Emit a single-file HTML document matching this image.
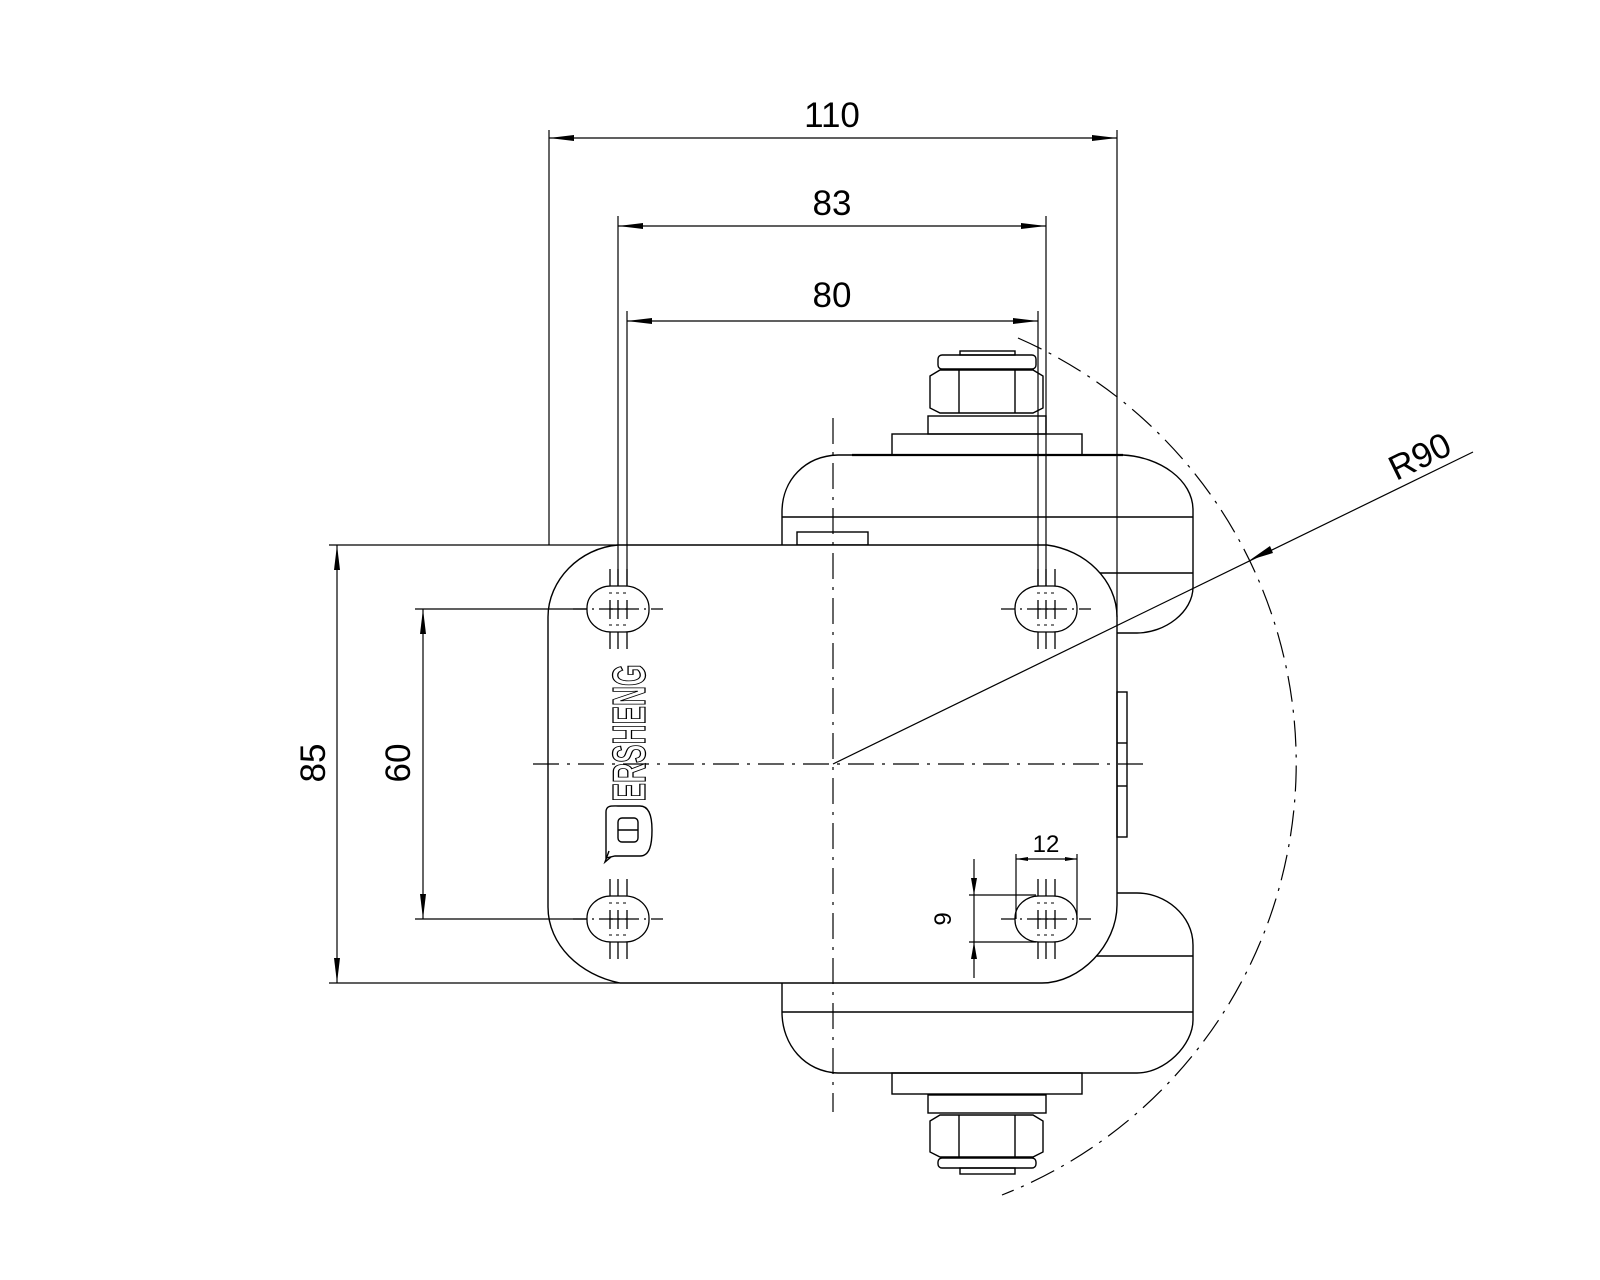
<!DOCTYPE html>
<html><head><meta charset="utf-8"><style>
html,body{margin:0;padding:0;background:#fff;}
svg{display:block;}
text{font-family:"Liberation Sans",sans-serif;fill:#000;}
</style></head><body>
<svg width="1600" height="1280" viewBox="0 0 1600 1280" xmlns="http://www.w3.org/2000/svg">
<defs>
<g id="hole">
  <rect x="-31" y="-23" width="62" height="46" rx="24" ry="22" fill="none" stroke="#000" stroke-width="1.3"/>
  <line x1="-45" y1="0" x2="45" y2="0" stroke="#000" stroke-width="1.2" stroke-dasharray="14,5,2,5"/>
  <line x1="-8" y1="-9" x2="-8" y2="10" stroke="#000" stroke-width="1.3"/>
  <line x1="0" y1="-9" x2="0" y2="10" stroke="#000" stroke-width="1.3"/>
  <line x1="9" y1="-9" x2="9" y2="10" stroke="#000" stroke-width="1.3"/>
  <line x1="-8" y1="0" x2="9" y2="0" stroke="#000" stroke-width="1.3"/>
  <line x1="-9" y1="-16" x2="10" y2="-16" stroke="#000" stroke-width="1" stroke-dasharray="3,4"/>
  <line x1="-9" y1="16" x2="10" y2="16" stroke="#000" stroke-width="1" stroke-dasharray="3,4"/>
  <line x1="-8" y1="-40" x2="-8" y2="-23" stroke="#000" stroke-width="1.3"/>
  <line x1="0" y1="-40" x2="0" y2="-23" stroke="#000" stroke-width="1.3"/>
  <line x1="9" y1="-40" x2="9" y2="-23" stroke="#000" stroke-width="1.3"/>
  <line x1="-8" y1="23" x2="-8" y2="40" stroke="#000" stroke-width="1.3"/>
  <line x1="0" y1="23" x2="0" y2="40" stroke="#000" stroke-width="1.3"/>
  <line x1="9" y1="23" x2="9" y2="40" stroke="#000" stroke-width="1.3"/>
</g>
</defs>
<g fill="none" stroke="#000" stroke-width="1.4">
<path d="M782 545 L782 512 C782 480 805 456 838 455 L1123 455 C1160 457 1193 480 1193 510 L1193 587 C1193 612 1165 633 1137 633 L1117 633"/>
<line x1="782" y1="517" x2="1193" y2="517"/>
<line x1="1088" y1="573" x2="1193" y2="573"/>
<line x1="852" y1="455" x2="1123" y2="455" stroke-width="2.2"/>
<rect x="797" y="532" width="71" height="13"/>
<rect x="892" y="434" width="190" height="21"/>
<rect x="928" y="416" width="118" height="18"/>
<path d="M930 376 L940 370 L1033 370 L1043 376 L1043 408 L1033 413 L940 413 L930 408 Z"/>
<line x1="959" y1="370" x2="959" y2="413"/><line x1="1015" y1="370" x2="1015" y2="413"/>
<rect x="938" y="355" width="98" height="14" rx="4"/>
<rect x="960" y="351" width="55" height="4"/>
<path d="M1117 893 L1137 893 C1165 893 1193 915 1193 945 L1193 1020 C1193 1045 1165 1073 1137 1073 L838 1073 C805 1072 782 1045 782 1012 L782 983"/>
<line x1="782" y1="1012" x2="1193" y2="1012"/>
<line x1="1088" y1="956" x2="1193" y2="956"/>
<rect x="892" y="1073" width="190" height="21"/>
<rect x="928" y="1095" width="118" height="18"/>
<path d="M930 1121 L940 1115 L1033 1115 L1043 1121 L1043 1152 L1033 1157 L940 1157 L930 1152 Z"/>
<line x1="959" y1="1115" x2="959" y2="1157"/><line x1="1015" y1="1115" x2="1015" y2="1157"/>
<rect x="938" y="1158" width="98" height="10" rx="4"/>
<rect x="960" y="1168" width="55" height="6"/>
<path d="M618 545 L1047 545 C1085 550 1117 580 1117 617 L1117 905 C1117 945 1080 983 1042 983 L620 983 C580 975 548 945 548 907 L548 617 C548 580 580 548 618 545 Z" fill="#fff"/>
<rect x="1117" y="692" width="10" height="145"/>
<line x1="1117" y1="743" x2="1127" y2="743"/><line x1="1117" y1="786" x2="1127" y2="786"/>
</g>
<use href="#hole" x="618" y="609"/>
<use href="#hole" x="618" y="919"/>
<use href="#hole" x="1046" y="609"/>
<use href="#hole" x="1046" y="919"/>
<g stroke="#000" stroke-width="1.2" fill="none">
<line x1="833" y1="418" x2="833" y2="1112" stroke-dasharray="26,8,3,8"/>
<line x1="533" y1="764" x2="1143" y2="764" stroke-dasharray="26,8,3,8"/>
<path d="M1018 338 A464 464 0 0 1 1002 1195" stroke-dasharray="26,8,3,8"/>
</g>
<g stroke="#000" stroke-width="1.2" fill="none">
<line x1="549" y1="130" x2="549" y2="545"/>
<line x1="1117" y1="130" x2="1117" y2="617"/>
<line x1="549" y1="138" x2="1117" y2="138"/>
<line x1="618" y1="216" x2="618" y2="586"/>
<line x1="1046" y1="216" x2="1046" y2="586"/>
<line x1="618" y1="226" x2="1046" y2="226"/>
<line x1="627" y1="311" x2="627" y2="586"/>
<line x1="1038" y1="311" x2="1038" y2="586"/>
<line x1="627" y1="321" x2="1038" y2="321"/>
<line x1="329" y1="545" x2="618" y2="545"/>
<line x1="329" y1="983" x2="620" y2="983"/>
<line x1="337" y1="545" x2="337" y2="983"/>
<line x1="415" y1="609" x2="587" y2="609"/>
<line x1="415" y1="919" x2="587" y2="919"/>
<line x1="423" y1="609" x2="423" y2="919"/>
<line x1="1016" y1="854" x2="1016" y2="919"/>
<line x1="1077" y1="854" x2="1077" y2="919"/>
<line x1="1016" y1="859" x2="1077" y2="859"/>
<line x1="969" y1="895" x2="1036" y2="895"/>
<line x1="969" y1="942" x2="1036" y2="942"/>
<line x1="974" y1="859" x2="974" y2="978"/>
<line x1="833" y1="764" x2="1473" y2="452"/>
</g>
<g fill="#000">
<polygon points="549,138 574,135 574,141"/><polygon points="1117,138 1092,135 1092,141"/>
<polygon points="618,226 643,223 643,229"/><polygon points="1046,226 1021,223 1021,229"/>
<polygon points="627,321 652,318 652,324"/><polygon points="1038,321 1013,318 1013,324"/>
<polygon points="337,545 334,570 340,570"/><polygon points="337,983 334,958 340,958"/>
<polygon points="423,609 420,634 426,634"/><polygon points="423,919 420,894 426,894"/>
<polygon points="1016,859 1028,857 1028,861"/><polygon points="1077,859 1065,857 1065,861"/>
<polygon points="974,895 971,878 977,878"/><polygon points="974,942 971,959 977,959"/>
<polygon points="1250,560 1270,546 1273,553"/>
</g>
<text x="832" y="127" font-size="35" text-anchor="middle">110</text>
<text x="832" y="215" font-size="35" text-anchor="middle">83</text>
<text x="832" y="307" font-size="35" text-anchor="middle">80</text>
<text x="0" y="0" font-size="35" text-anchor="middle" transform="translate(325,763) rotate(-90)">85</text>
<text x="0" y="0" font-size="35" text-anchor="middle" transform="translate(410,763) rotate(-90)">60</text>
<text x="0" y="0" font-size="24" text-anchor="middle" transform="translate(1046,852)">12</text>
<text x="0" y="0" font-size="24" text-anchor="middle" transform="translate(951,919) rotate(-90)">9</text>
<text x="0" y="0" font-size="35" text-anchor="middle" transform="translate(1425,467) rotate(-26)">R90</text>
<text x="0" y="0" font-size="46" font-weight="bold" text-anchor="middle" textLength="137" lengthAdjust="spacingAndGlyphs" transform="translate(645,733) rotate(-90)" style="fill:#fff;stroke:#000;stroke-width:1.3">ERSHENG</text>
<g fill="none" stroke="#000" stroke-width="1.4">
<path d="M606 858 L606 812 C606 805 612 806 618 806 L640 806 C650 806 652 818 652 830 C652 844 650 856 640 856 L615 856 Z"/>
<path d="M611 857 L605 862 L609 851"/>
<rect x="618" y="818" width="20" height="24" rx="4"/>
<line x1="618" y1="830" x2="638" y2="830"/>
</g>
</svg>
</body></html>
